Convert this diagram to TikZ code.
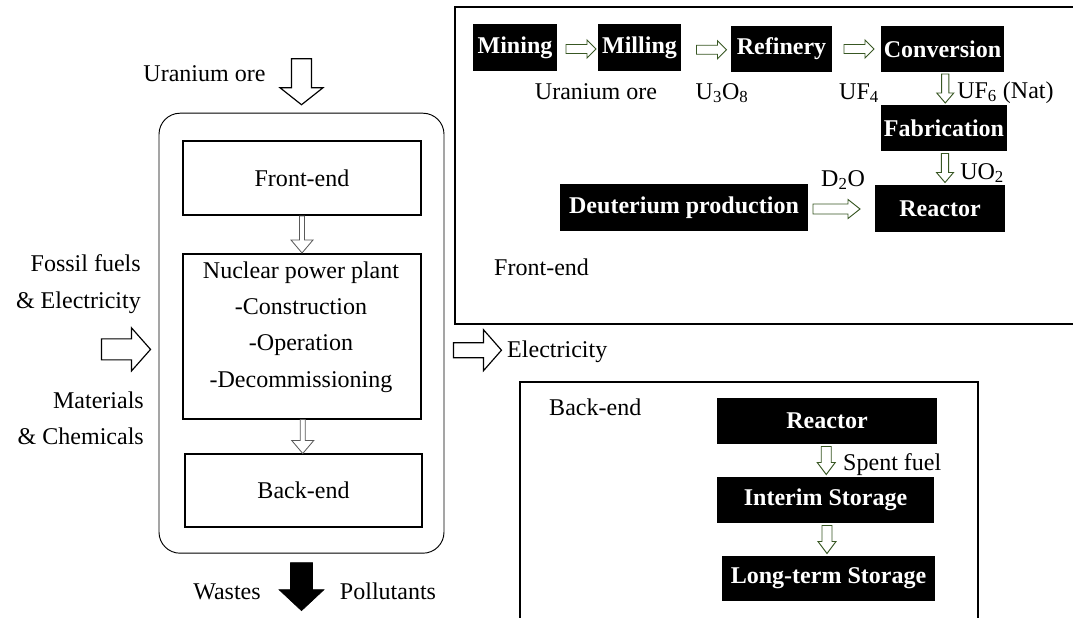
\documentclass[tikz,border=0pt]{standalone}
\usepackage{fontspec}
\setmainfont{Liberation Serif}
\usetikzlibrary{calc}
\definecolor{arrgreen}{RGB}{56,87,35}
\tikzset{
  pics/blk/.style n args={4}{code={%
    \path[pic actions] ({-(#1)/2},{-(#2)}) -- ({(#1)/2-(#4)},{-(#2)}) -- ({(#1)/2-(#4)},{-(#3)}) -- ({(#1)/2},0) -- ({(#1)/2-(#4)},{#3}) -- ({(#1)/2-(#4)},{#2}) -- ({-(#1)/2},{#2}) -- cycle;}},
  sz/.style 2 args={minimum width=#1*0.03cm, minimum height=#2*0.03cm},
  txt/.style={inner sep=0, font=\fontsize{20.5}{31}\selectfont},
  blackbox/.style={fill=black, text=white, inner sep=0, font=\fontsize{20.5}{31}\selectfont\bfseries},
  whitebox/.style={draw, line width=1.2pt, inner sep=0, font=\fontsize{20.5}{31}\selectfont},
  garr/.style={draw=arrgreen, fill=white, line width=0.8pt, line join=miter},
  oarr/.style={draw=black, fill=white, line width=1pt, line join=miter},
  iarr/.style={draw=black!65, fill=white, line width=0.7pt, line join=miter},
  sarr/.style={draw=black, fill=black, line width=0.5pt, line join=miter},
}
\begin{document}
\begin{tikzpicture}[x=0.03cm, y=-0.03cm]
\useasboundingbox (0,0) rectangle (1073,617);

% ---------- left: system overview ----------
\node[draw, line width=0.8pt, rounded corners=18pt, sz={285}{440}] (plant) at (301.5,333.2) {};
\node[whitebox, sz={238}{74}] (front) at (302,178) {Front-end};
\node[whitebox, sz={238}{165}] (npp) at (302,336.5) {};
\node[txt, align=center] (npptext) at (301,327) {Nuclear power plant\\-Construction\\-Operation\\-Decommissioning};
\node[whitebox, sz={237}{73}] (back) at (303.5,490.5) {Back-end};

\pic[iarr, rotate=-90] at ($(front.south)!0.5!(npp.north)$) {blk={37}{2.5}{11}{13}};
\pic[iarr, rotate=-90] at ($(npp.south)!0.5!(back.north)$) {blk={34}{2.5}{11}{13}};

\node[txt, anchor=base] (uore) at (204.5,81.4) {Uranium ore};
\pic[oarr, rotate=-90] at ($(plant.north)+(0,-31)$) {blk={46}{10}{21.5}{17}};

\node[txt, align=right, anchor=east] (fossil) at (141,284) {Fossil fuels\\\& Electricity};
\node[txt, align=right, anchor=east] (mat) at (144,418) {Materials\\\& Chemicals};
\pic[oarr] at ($(plant.west)+(-32.5,16.2)$) {blk={49}{10.5}{21.5}{19}};

\node[txt, anchor=base west] (elec) at (507,357) {Electricity};
\pic[oarr] at ($(plant.east)+(33,17)$) {blk={48}{7.5}{20.5}{18}};

\node[txt, anchor=base] (wastes) at (227,599) {Wastes};
\node[txt, anchor=base] (poll) at (388,599) {Pollutants};
\pic[sarr, rotate=-90] at ($(plant.south)+(0,33)$) {blk={48}{11}{22.5}{21}};

% ---------- top right: front-end ----------
\draw[line width=1.6pt] (455,7) rectangle (1090,324);
\node[blackbox, sz={84}{47}] (mining) at (515,47.5) {Mining};
\node[blackbox, sz={83}{47}] (milling) at (639.5,47.5) {Milling};
\node[blackbox, sz={101}{46}] (refinery) at (781.5,49) {Refinery};
\node[blackbox, sz={123}{46}] (conversion) at (942.5,49) {Conversion};
\node[blackbox, sz={126}{46}] (fabrication) at (944,128) {Fabrication};
\node[blackbox, sz={130}{47}] (reactor) at (940,208.5) {Reactor};
\node[blackbox, sz={248}{47}] (deut) at (684,207.5) {Deuterium production};

\pic[garr] at ($(mining.east)!0.5!(milling.west)+(3.5,1.5)$) {blk={30}{4.5}{9}{9}};
\pic[garr] at ($(milling.east)!0.5!(refinery.west)+(5.5,1.5)$) {blk={30}{4.5}{9}{9}};
\pic[garr] at ($(refinery.east)!0.5!(conversion.west)+(2.5,0)$) {blk={30}{4.5}{9}{9}};
\pic[garr, rotate=-90] at ($(conversion.south)!0.5!(fabrication.north)+(2,0)$) {blk={29}{3.7}{8.5}{10}};
\pic[garr, rotate=-90] at ($(fabrication.south)!0.5!(reactor.north)+(3,0)$) {blk={29}{3.7}{8.5}{10}};
\pic[garr] at ($(deut.east)!0.5!(reactor.west)+(-5,1)$) {blk={47}{5}{9.5}{12}};

\node[txt, anchor=base] (l1) at (596,99) {Uranium ore};
\node[txt, anchor=base] (l2) at (722,99) {U\textsubscript{3}O\textsubscript{8}};
\node[txt, anchor=base] (l3) at (859,99) {UF\textsubscript{4}};
\node[txt, anchor=base west] (l4) at (957,98) {UF\textsubscript{6} (Nat)};
\node[txt, anchor=base west] (l5) at (960,179) {UO\textsubscript{2}};
\node[txt, anchor=base] (l6) at (843,186) {D\textsubscript{2}O};
\node[txt, anchor=base west] (fe) at (494,275) {Front-end};

% ---------- bottom right: back-end ----------
\draw[line width=1.1pt] (520,382) rectangle (978,640);
\node[txt, anchor=base west] (be) at (549,415) {Back-end};
\node[blackbox, sz={220}{46}] (reactor2) at (827,421) {Reactor};
\node[blackbox, sz={217}{46}] (interim) at (825.5,500) {Interim Storage};
\node[blackbox, sz={213}{45}] (longterm) at (828.5,578.5) {Long-term Storage};
\pic[garr, rotate=-90] at ($(reactor2.south)!0.5!(interim.north)$) {blk={28}{5}{9}{12}};
\pic[garr, rotate=-90] at ($(interim.south)!0.5!(longterm.north)$) {blk={28}{5}{9}{12}};
\node[txt, anchor=base west] (spent) at (843,470) {Spent fuel};
\end{tikzpicture}
\end{document}
